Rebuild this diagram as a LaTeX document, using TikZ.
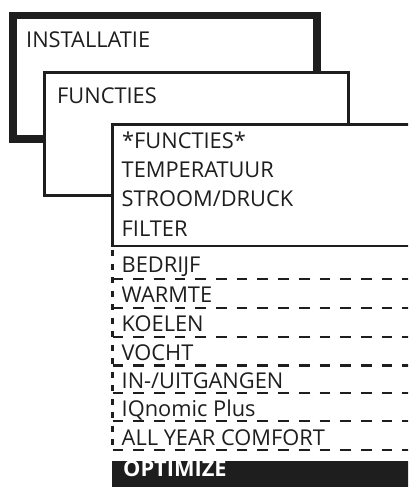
\documentclass[tikz,border=0pt]{standalone}
\usepackage{fontspec}
\setmainfont{Open Sans}
\definecolor{ink}{RGB}{30,30,30}
\newcommand{\lblfont}{\fontsize{21.8}{26}\selectfont}
\begin{document}
\begin{tikzpicture}[x=1pt,y=-1pt,
  lbl/.style={anchor=base west, inner sep=0pt, font=\lblfont, text=ink},
  thickbox/.style={draw=ink, fill=white, line width=7.5pt},
  midbox/.style={draw=ink, fill=white, line width=2.7pt},
  hdash/.style={draw=ink, line width=2.5pt, dash pattern=on 10.7pt off 10pt},
  vdash/.style={draw=ink, line width=2.5pt, dash pattern=on 6pt off 7.5pt}]
\useasboundingbox (0,0) rectangle (408,488);
\clip (0,0) rectangle (408,488);
% box 1
\draw[thickbox] (13,15.5) rectangle (317,139);
\node[lbl] (installatie) at (26,47.7) {INSTALLATIE};
% box 2
\draw[midbox] (44.5,72.5) rectangle (348.5,195.3);
\node[lbl] (functies) at (57,103) {FUNCTIES};
% dashed rows
\foreach \y in {279, 308, 337, 365.5, 393, 421, 450}
  \draw[hdash] (112.5,\y) -- (430,\y);
\draw[vdash, dash phase=-4pt] (112.5,246) -- (112.5,452);
% box 3
\draw[midbox] (112.5,124.5) rectangle (430,246);
\node[lbl] (f2) at (122,148) {*FUNCTIES*};
\node[lbl] (temp) at (121.5,177) {TEMPERATUUR};
\node[lbl] (stroom) at (121.5,206.5) {STROOM/DRUCK};
\node[lbl] (filter) at (121.5,236) {FILTER};
\node[lbl] (bedrijf) at (121.5,272.7) {BEDRIJF};
\node[lbl] (warmte) at (121.5,302) {WARMTE};
\node[lbl] (koelen) at (121.5,331.5) {KOELEN};
\node[lbl] (vocht) at (121.5,360.7) {VOCHT};
\node[lbl] (inuit) at (121.5,388.5) {IN-/UITGANGEN};
\node[lbl] (iq) at (121.5,416.7) {IQnomic Plus};
\node[lbl] (ayc) at (121.5,445) {ALL YEAR COMFORT};
% optimize
\fill[ink] (112,460.5) rectangle (430,487);
\node[lbl, text=white, font=\lblfont\bfseries] (optimize) at (123,476.7) {OPTIMIZE};
\end{tikzpicture}
\end{document}
